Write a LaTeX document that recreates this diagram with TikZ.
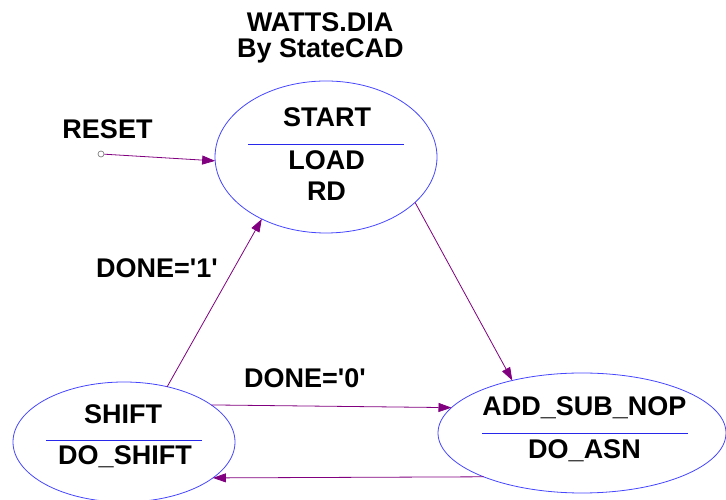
\documentclass[tikz,border=0pt]{standalone}
\usepackage{fontspec}
\setmainfont{Liberation Sans}
\usetikzlibrary{shapes.geometric,arrows.meta}
\definecolor{stateblue}{RGB}{70,70,255}
\definecolor{ruleblue}{RGB}{40,40,235}
\definecolor{transpurple}{RGB}{128,0,128}
\begin{document}
\begin{tikzpicture}[x=1pt,y=1pt,
  state/.style={ellipse, draw=stateblue, line width=0.8pt, inner sep=0pt, outer sep=0pt},
  lbl/.style={font=\fontsize{27}{31}\selectfont\bfseries, anchor=base, inner sep=0pt},
  divider/.style={draw=ruleblue, line width=0.9pt},
  trans/.style={draw=transpurple, line width=0.8pt, -{Triangle[length=13pt,width=9pt]}}]
\useasboundingbox (0,0) rectangle (726,500);

% title
\node[lbl] (title) at (320,468) {WATTS.DIA};
\node[lbl] (author) at (320.5,442) {By StateCAD};

% states
\node[state, minimum width=222pt, minimum height=152pt] (start) at (326,343) {};
\node[state, minimum width=222pt, minimum height=120pt] (shift) at (124,58) {};
\node[state, minimum width=288pt, minimum height=120pt] (add) at (582,67) {};

% state names, dividers and actions
\node[lbl] (startname) at (327,373) {START};
\draw[divider] (248,356) -- (404,356);
\node[lbl] (startact1) at (326.5,330) {LOAD};
\node[lbl] (startact2) at (326.5,299) {RD};

\node[lbl] (shiftname) at (123,76) {SHIFT};
\draw[divider] (46,60) -- (202,60);
\node[lbl] (shiftact) at (125,35) {DO\_SHIFT};

\node[lbl] (addname) at (584.5,84) {ADD\_SUB\_NOP};
\draw[divider] (482,67) -- (688,67);
\node[lbl] (addact) at (584.5,41) {DO\_ASN};

% reset entry
\node[circle, draw=gray, line width=0.7pt, inner sep=0pt, minimum size=6pt] (reset) at (101,346) {};
\node[lbl] (resetlbl) at (107.5,361) {RESET};
\draw[trans] (reset) -- (start.182);

% transitions
\draw[trans] (start.-27) -- (add.143);
\draw[trans] (shift.52) -- (start.224);
\draw[trans] (shift.23) -- (add.169);
\draw[trans] (add.204) -- (shift.-22);

% transition conditions
\node[lbl] (cond1) at (157,222) {DONE=\textquotesingle 1\textquotesingle};
\node[lbl] (cond0) at (305,112) {DONE=\textquotesingle 0\textquotesingle};
\end{tikzpicture}
\end{document}
